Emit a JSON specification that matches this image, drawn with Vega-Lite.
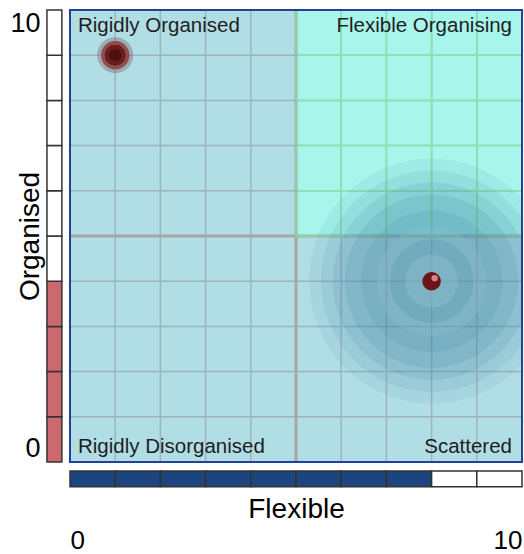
{
  "$schema": "https://vega.github.io/schema/vega-lite/v6.json",
  "width": 452,
  "height": 452,
  "autosize": {"type": "none"},
  "padding": {"left": 70, "top": 10, "right": 2, "bottom": 92},
  "background": "white",
  "view": {"fill": "#b1dde5", "stroke": null},
  "config": {"font": "Liberation Sans"},
  "datasets": {
    "quadrants": [
      {"name": "Rigidly Organised", "x0": 0, "x1": 5, "y0": 5, "y1": 10, "side": "left", "level": "top"},
      {"name": "Flexible Organising", "x0": 5, "x1": 10, "y0": 5, "y1": 10, "side": "right", "level": "top"},
      {"name": "Rigidly Disorganised", "x0": 0, "x1": 5, "y0": 0, "y1": 5, "side": "left", "level": "bottom"},
      {"name": "Scattered", "x0": 5, "x1": 10, "y0": 0, "y1": 5, "side": "right", "level": "bottom"}
    ],
    "grid": [
      {"v": 1, "mid": false}, {"v": 2, "mid": false}, {"v": 3, "mid": false}, {"v": 4, "mid": false},
      {"v": 5, "mid": true},
      {"v": 6, "mid": false}, {"v": 7, "mid": false}, {"v": 8, "mid": false}, {"v": 9, "mid": false}
    ],
    "points": [
      {"state": "previous", "flexible": 1, "organised": 9},
      {"state": "current", "flexible": 8, "organised": 4}
    ],
    "organisedCells": [
      {"lo": 0, "hi": 1, "filled": true}, {"lo": 1, "hi": 2, "filled": true},
      {"lo": 2, "hi": 3, "filled": true}, {"lo": 3, "hi": 4, "filled": true},
      {"lo": 4, "hi": 5, "filled": false}, {"lo": 5, "hi": 6, "filled": false},
      {"lo": 6, "hi": 7, "filled": false}, {"lo": 7, "hi": 8, "filled": false},
      {"lo": 8, "hi": 9, "filled": false}, {"lo": 9, "hi": 10, "filled": false}
    ],
    "flexibleCells": [
      {"lo": 0, "hi": 1, "filled": true}, {"lo": 1, "hi": 2, "filled": true},
      {"lo": 2, "hi": 3, "filled": true}, {"lo": 3, "hi": 4, "filled": true},
      {"lo": 4, "hi": 5, "filled": true}, {"lo": 5, "hi": 6, "filled": true},
      {"lo": 6, "hi": 7, "filled": true}, {"lo": 7, "hi": 8, "filled": true},
      {"lo": 8, "hi": 9, "filled": false}, {"lo": 9, "hi": 10, "filled": false}
    ]
  },
  "layer": [
    {
      "data": {"name": "quadrants"},
      "mark": {"type": "rect", "strokeWidth": 0},
      "encoding": {
        "x": {
          "field": "x0", "type": "quantitative",
          "scale": {"domain": [0, 10], "nice": false, "zero": false},
          "axis": {
            "orient": "bottom", "values": [0, 10], "labelFlush": true,
            "domain": false, "ticks": false, "grid": false, "offset": 62,
            "labelPadding": 3, "labelFontSize": 26, "labelColor": "#000000",
            "title": "Flexible", "titleFontSize": 28, "titleFontWeight": "normal",
            "titleColor": "#000000", "titleBaseline": "alphabetic", "titleY": -7
          }
        },
        "x2": {"field": "x1"},
        "y": {
          "field": "y0", "type": "quantitative",
          "scale": {"domain": [0, 10], "nice": false, "zero": false},
          "axis": {
            "orient": "left", "values": [0, 10], "labelFlush": true,
            "domain": false, "ticks": false, "grid": false, "offset": 23,
            "labelPadding": 7, "labelFontSize": 27, "labelColor": "#000000",
            "title": "Organised", "titleFontSize": 28, "titleFontWeight": "normal",
            "titleColor": "#000000", "titleBaseline": "alphabetic", "titleX": -9
          }
        },
        "y2": {"field": "y1"},
        "fill": {
          "condition": {"test": "datum.name === 'Flexible Organising'", "value": "#a7f5eb"},
          "value": "#b1dde5"
        }
      }
    },
    {
      "data": {"name": "grid"},
      "transform": [{"filter": "!datum.mid"}],
      "mark": {"type": "rule", "stroke": "#9db4bd", "strokeWidth": 1.5},
      "encoding": {"x": {"field": "v", "type": "quantitative"}, "y": {"datum": 0}, "y2": {"datum": 10}}
    },
    {
      "data": {"name": "grid"},
      "transform": [{"filter": "!datum.mid"}],
      "mark": {"type": "rule", "stroke": "#9db4bd", "strokeWidth": 1.5},
      "encoding": {"y": {"field": "v", "type": "quantitative"}, "x": {"datum": 0}, "x2": {"datum": 10}}
    },
    {
      "data": {"name": "grid"},
      "transform": [{"filter": "datum.v > 5"}],
      "mark": {"type": "rule", "stroke": "#86e6a9", "strokeWidth": 1.5},
      "encoding": {"x": {"field": "v", "type": "quantitative"}, "y": {"datum": 5}, "y2": {"datum": 10}}
    },
    {
      "data": {"name": "grid"},
      "transform": [{"filter": "datum.v > 5"}],
      "mark": {"type": "rule", "stroke": "#86e6a9", "strokeWidth": 1.5},
      "encoding": {"y": {"field": "v", "type": "quantitative"}, "x": {"datum": 5}, "x2": {"datum": 10}}
    },
    {
      "data": {"name": "grid"},
      "transform": [{"filter": "datum.mid"}],
      "mark": {"type": "rule", "stroke": "#a6a6a6", "strokeWidth": 3},
      "encoding": {"x": {"field": "v", "type": "quantitative"}, "y": {"datum": 0}, "y2": {"datum": 10}}
    },
    {
      "data": {"name": "grid"},
      "transform": [{"filter": "datum.mid"}],
      "mark": {"type": "rule", "stroke": "#a6a6a6", "strokeWidth": 3},
      "encoding": {"y": {"field": "v", "type": "quantitative"}, "x": {"datum": 0}, "x2": {"datum": 10}}
    },
    {
      "data": {"name": "quadrants"},
      "transform": [{"filter": "datum.name === 'Flexible Organising'"}],
      "mark": {"type": "rect", "fill": null, "stroke": "#7fe3a0", "strokeWidth": 1.5},
      "encoding": {"x": {"field": "x0", "type": "quantitative"}, "x2": {"field": "x1"}, "y": {"field": "y0", "type": "quantitative"}, "y2": {"field": "y1"}}
    },
    {
      "data": {"name": "points"},
      "transform": [{"filter": "datum.state === 'current'"}],
      "encoding": {"x": {"field": "flexible", "type": "quantitative"}, "y": {"field": "organised", "type": "quantitative"}},
      "layer": [
        {"mark": {"type": "circle", "size": 60000, "fill": "#4a90ae", "opacity": 0.1, "clip": true}},
        {"mark": {"type": "circle", "size": 49000, "fill": "#3a82a3", "opacity": 0.11, "clip": true}},
        {"mark": {"type": "circle", "size": 39000, "fill": "#33799c", "opacity": 0.12, "clip": true}},
        {"mark": {"type": "circle", "size": 30000, "fill": "#2f7096", "opacity": 0.12, "clip": true}},
        {"mark": {"type": "circle", "size": 20000, "fill": "#2f7096", "opacity": 0.1, "clip": true}},
        {"mark": {"type": "circle", "size": 12000, "fill": "#8fc4d4", "opacity": 0.25, "clip": true}},
        {"mark": {"type": "circle", "size": 7000, "fill": "#2f7096", "opacity": 0.15, "clip": true}},
        {"mark": {"type": "circle", "size": 2800, "fill": "#9acbdb", "opacity": 0.3, "clip": true}},
        {"mark": {"type": "circle", "size": 340, "fill": "#6a1414", "opacity": 1}},
        {"mark": {"type": "circle", "size": 40, "fill": "#e59a9a", "opacity": 0.85, "xOffset": 3, "yOffset": -3}}
      ]
    },
    {
      "data": {"name": "points"},
      "transform": [{"filter": "datum.state === 'previous'"}],
      "encoding": {"x": {"field": "flexible", "type": "quantitative"}, "y": {"field": "organised", "type": "quantitative"}},
      "layer": [
        {"mark": {"type": "circle", "size": 1300, "fill": "#7b4a5a", "opacity": 0.35}},
        {"mark": {"type": "circle", "size": 800, "fill": "#8a3c3c", "opacity": 0.85}},
        {"mark": {"type": "circle", "size": 500, "fill": "#6a1e1e", "stroke": "#c47070", "strokeWidth": 1, "strokeOpacity": 0.6, "opacity": 1}},
        {"mark": {"type": "circle", "size": 150, "fill": "#4e0e0e", "opacity": 1}}
      ]
    },
    {
      "data": {"name": "quadrants"},
      "transform": [{"filter": "datum.side === 'left' && datum.level === 'top'"}],
      "mark": {"type": "text", "align": "left", "baseline": "alphabetic", "dx": 8, "dy": 22, "fontSize": 20.5, "fill": "#1e1e1e"},
      "encoding": {"x": {"field": "x0", "type": "quantitative"}, "y": {"field": "y1", "type": "quantitative"}, "text": {"field": "name"}}
    },
    {
      "data": {"name": "quadrants"},
      "transform": [{"filter": "datum.side === 'right' && datum.level === 'top'"}],
      "mark": {"type": "text", "align": "right", "baseline": "alphabetic", "dx": -10, "dy": 22, "fontSize": 20.5, "fill": "#1e1e1e"},
      "encoding": {"x": {"field": "x1", "type": "quantitative"}, "y": {"field": "y1", "type": "quantitative"}, "text": {"field": "name"}}
    },
    {
      "data": {"name": "quadrants"},
      "transform": [{"filter": "datum.side === 'left' && datum.level === 'bottom'"}],
      "mark": {"type": "text", "align": "left", "baseline": "alphabetic", "dx": 8, "dy": -9, "fontSize": 20.5, "fill": "#1e1e1e"},
      "encoding": {"x": {"field": "x0", "type": "quantitative"}, "y": {"field": "y0", "type": "quantitative"}, "text": {"field": "name"}}
    },
    {
      "data": {"name": "quadrants"},
      "transform": [{"filter": "datum.side === 'right' && datum.level === 'bottom'"}],
      "mark": {"type": "text", "align": "right", "baseline": "alphabetic", "dx": -10, "dy": -9, "fontSize": 20.5, "fill": "#1e1e1e"},
      "encoding": {"x": {"field": "x1", "type": "quantitative"}, "y": {"field": "y0", "type": "quantitative"}, "text": {"field": "name"}}
    },
    {
      "data": {"values": [{}]},
      "mark": {"type": "rect", "fill": null, "stroke": "#23409a", "strokeWidth": 2},
      "encoding": {"x": {"datum": 0}, "x2": {"datum": 10}, "y": {"datum": 0}, "y2": {"datum": 10}}
    },
    {
      "data": {"name": "organisedCells"},
      "mark": {"type": "rect", "stroke": "#333333", "strokeWidth": 1.5, "clip": false},
      "encoding": {
        "y": {"field": "lo", "type": "quantitative"},
        "y2": {"field": "hi"},
        "x": {"datum": -0.51},
        "x2": {"datum": -0.18},
        "fill": {"condition": {"test": "datum.filled", "value": "#cc6870"}, "value": "#ffffff"}
      }
    },
    {
      "data": {"name": "flexibleCells"},
      "mark": {"type": "rect", "stroke": "#333333", "strokeWidth": 1.5, "clip": false},
      "encoding": {
        "x": {"field": "lo", "type": "quantitative"},
        "x2": {"field": "hi"},
        "y": {"datum": -0.2},
        "y2": {"datum": -0.55},
        "fill": {"condition": {"test": "datum.filled", "value": "#1c4580"}, "value": "#ffffff"}
      }
    }
  ]
}
